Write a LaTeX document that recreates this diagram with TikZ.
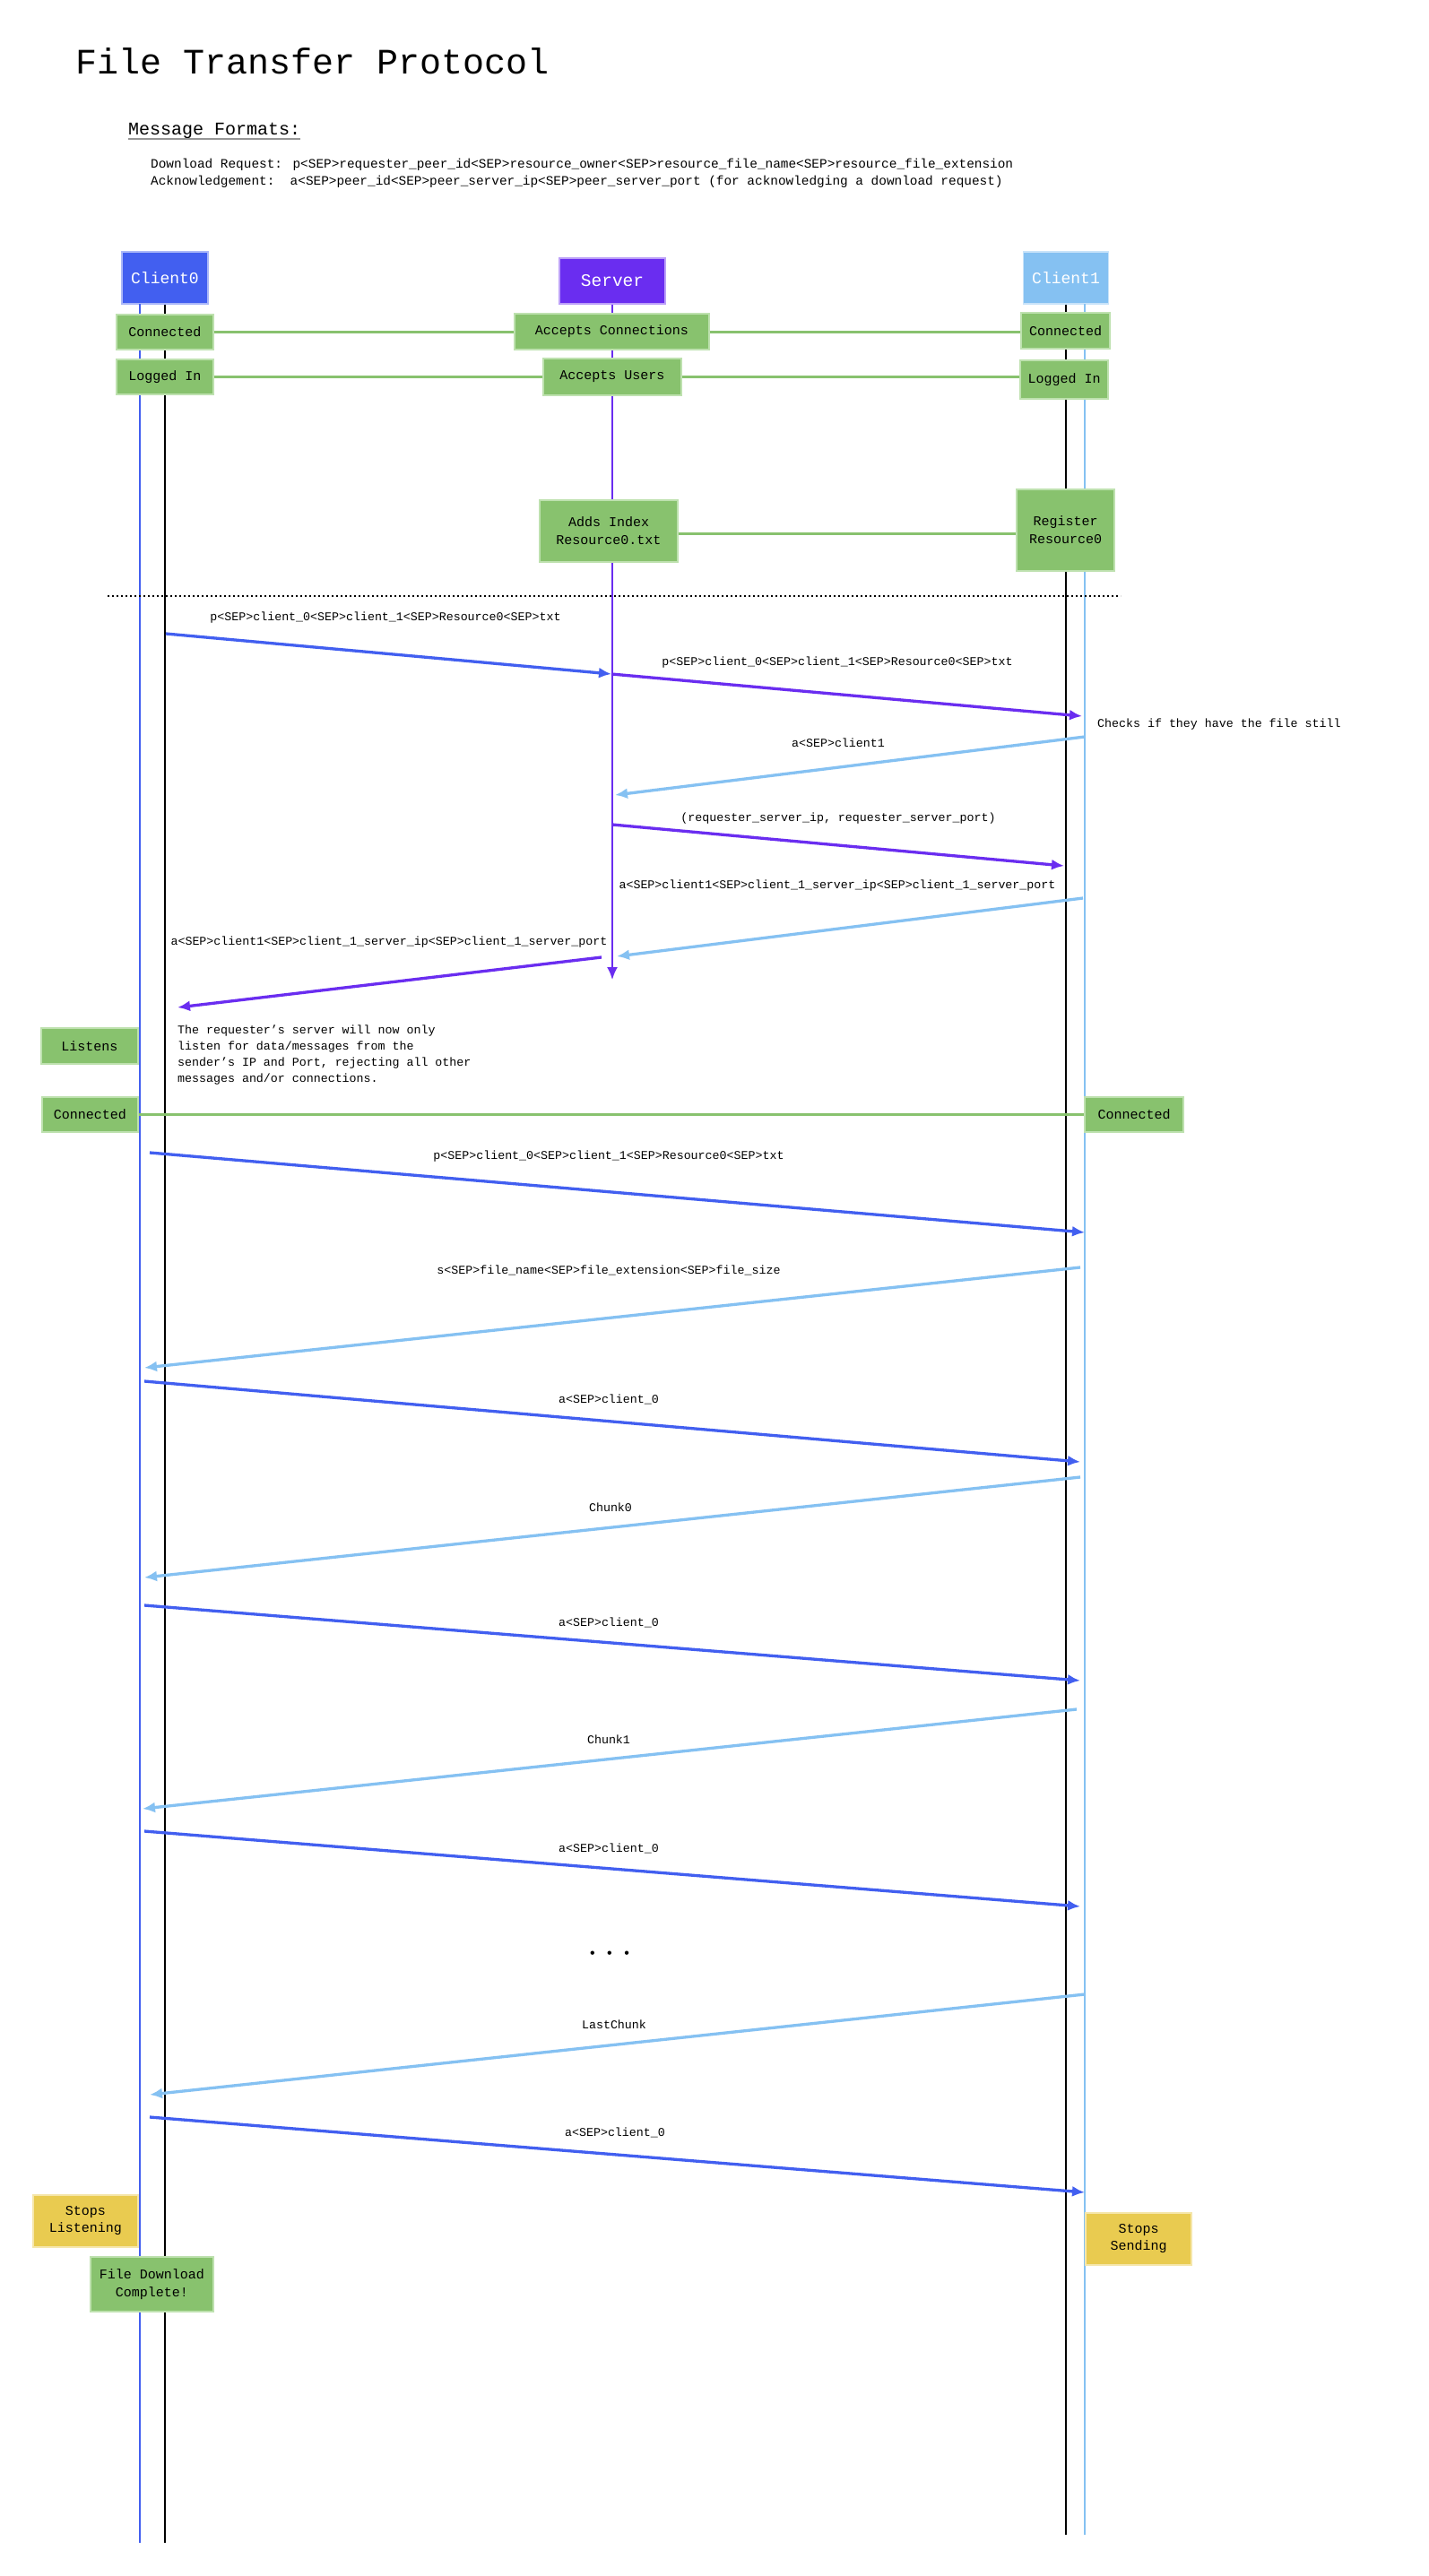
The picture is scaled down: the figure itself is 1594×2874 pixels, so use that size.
\documentclass[tikz,border=0pt]{standalone}
\usepackage{fontspec}
\setmainfont{Liberation Mono}
\usetikzlibrary{arrows.meta}
\definecolor{cA}{RGB}{66,95,240}
\definecolor{cS}{RGB}{106,45,240}
\definecolor{cB}{RGB}{133,193,242}
\definecolor{gfill}{RGB}{136,194,110}
\definecolor{gedge}{RGB}{190,225,175}
\definecolor{yfill}{RGB}{233,203,80}
\definecolor{yedge}{RGB}{245,230,170}
\definecolor{uline}{RGB}{150,150,150}
\tikzset{
  hdr/.style={rectangle, inner sep=0pt, text=white, fill=#1, draw=white!55!#1, line width=1.2pt},
  gbox/.style={rectangle, inner sep=0pt, fill=gfill, draw=gedge, line width=1.2pt, align=center, font={\fontsize{15}{20}\selectfont}},
  ybox/.style={rectangle, inner sep=0pt, fill=yfill, draw=yedge, line width=1.2pt, align=center, font={\fontsize{15}{19}\selectfont}},
  glink/.style={draw=gfill, line width=3pt},
  msgA/.style={draw=cA, line width=3.3pt, -{Latex[length=14pt,width=12pt]}},
  msgS/.style={draw=cS, line width=3.3pt, -{Latex[length=14pt,width=12pt]}},
  msgB/.style={draw=cB, line width=3.3pt, -{Latex[length=14pt,width=12pt]}},
  lbl/.style={inner sep=0pt, font={\fontsize{13.3}{18}\selectfont}},
}
\begin{document}
\begin{tikzpicture}[x=1pt,y=-1pt]
\fill[white] (0,0) rectangle (1594,2874);
\useasboundingbox (0,0) rectangle (1594,2874);

% title and formats
\node[inner sep=0pt, anchor=base west, font={\fontsize{40}{40}\selectfont}] (title) at (84,83) {File Transfer Protocol};
\node[inner sep=0pt, anchor=base west, font={\fontsize{20}{20}\selectfont}] (mf) at (143,151) {Message Formats:};
\draw[uline, line width=2pt] ([yshift=-4pt]mf.base west) -- ([yshift=-4pt]mf.base east);
\node[inner sep=0pt, anchor=base west, font={\fontsize{14.4}{19}\selectfont}] (fmt1) at (168,188) {Download Request: p<SEP>requester\_peer\_id<SEP>resource\_owner<SEP>resource\_file\_name<SEP>resource\_file\_extension};
\node[inner sep=0pt, anchor=base west, font={\fontsize{14.4}{19}\selectfont}] (fmt2) at (168,207) {Acknowledgement:\ \ a<SEP>peer\_id<SEP>peer\_server\_ip<SEP>peer\_server\_port (for acknowledging a download request)};

% lifeline coordinates
\coordinate (c0bt) at (156,339);
\coordinate (c0bb) at (156,2837);
\coordinate (c0kb) at (184,2837);
\coordinate (srvb) at (683,1093);
\coordinate (c1kb) at (1189,2828);
\coordinate (c1bt) at (1210,339);
\coordinate (c1bb) at (1210,2828);

% headers
\node[hdr=cA, minimum width=96pt, minimum height=58pt, font={\fontsize{18}{18}\selectfont}] (c0) at (184,310) {Client0};
\node[hdr=cS, minimum width=118pt, minimum height=51pt, font={\fontsize{19.5}{19.5}\selectfont}] (srv) at (683,313.5) {Server};
\node[hdr=cB, minimum width=95pt, minimum height=58pt, font={\fontsize{18}{18}\selectfont}] (c1) at (1189,310) {Client1};

% lifelines
\draw[cA, line width=2pt] (c0bt) -- (c0bb);
\draw[black, line width=2.2pt] (c0.south) -- (c0kb);
\draw[cS, line width=2pt, -{Latex[length=14pt,width=12pt]}] (srv.south) -- (srvb);
\draw[black, line width=2.8pt] (c1.south) -- (c1kb);
\draw[cB, line width=2.5pt] (c1bt) -- (c1bb);

% state boxes (top)
\node[gbox, minimum width=108pt, minimum height=39pt] (c0con) at (184,370.5) {Connected};
\node[gbox, minimum width=217pt, minimum height=40pt] (srvcon) at (682.5,370) {Accepts Connections};
\node[gbox, minimum width=99pt, minimum height=40pt] (c1con) at (1188.5,369) {Connected};
\node[gbox, minimum width=108pt, minimum height=39pt] (c0log) at (184,420.5) {Logged In};
\node[gbox, minimum width=154pt, minimum height=41pt] (srvusr) at (683,420.5) {Accepts Users};
\node[gbox, minimum width=98pt, minimum height=43pt] (c1log) at (1187,423.5) {Logged In};
\node[gbox, minimum width=154pt, minimum height=69pt] (srvidx) at (679,592.5) {Adds Index\\Resource0.txt};
\node[gbox, minimum width=109pt, minimum height=91pt] (c1reg) at (1188.5,591.5) {Register\\Resource0};

\draw[glink] (c0con.east) -- (c0con.east -| srvcon.west);
\draw[glink] (srvcon.east) -- (srvcon.east -| c1con.west);
\draw[glink] (c0log.east) -- (c0log.east -| srvusr.west);
\draw[glink] (srvusr.east) -- (srvusr.east -| c1log.west);
\draw[glink] ([yshift=-3pt]srvidx.east) -- ([yshift=-3pt]srvidx.east -| c1reg.west);

% dotted separator
\coordinate (dotL) at (120,665);
\coordinate (dotR) at (1250,665);
\draw[black, line width=2pt, dash pattern=on 2pt off 3pt] (dotL) -- (dotR);

% message end points
\coordinate (m1s) at (185,707);   \coordinate (m1e) at (682,752);
\coordinate (m2s) at (682,752);   \coordinate (m2e) at (1207,799);
\coordinate (m3s) at (1210,822);  \coordinate (m3e) at (686,887);
\coordinate (m4s) at (683,920);   \coordinate (m4e) at (1187,966);
\coordinate (m5s) at (1208,1002); \coordinate (m5e) at (688,1067);
\coordinate (m6s) at (671,1068);  \coordinate (m6e) at (198,1124);
\coordinate (m7s) at (167,1286);  \coordinate (m7e) at (1210,1375);
\coordinate (m8s) at (1205,1414); \coordinate (m8e) at (161,1526);
\coordinate (m9s) at (161,1541);  \coordinate (m9e) at (1205,1631);
\coordinate (m10s) at (1205,1648); \coordinate (m10e) at (161,1760);
\coordinate (m11s) at (161,1791); \coordinate (m11e) at (1205,1875);
\coordinate (m12s) at (1201,1907); \coordinate (m12e) at (159,2018);
\coordinate (m13s) at (161,2043); \coordinate (m13e) at (1205,2127);
\coordinate (m14s) at (1210,2225); \coordinate (m14e) at (167,2337);
\coordinate (m15s) at (167,2362); \coordinate (m15e) at (1210,2446);

\draw[msgA] (m1s) -- (m1e);
\draw[msgS] (m2s) -- (m2e);
\draw[msgB] (m3s) -- (m3e);
\draw[msgS] (m4s) -- (m4e);
\draw[msgB] (m5s) -- (m5e);
\draw[msgS] (m6s) -- (m6e);
\draw[msgA] (m7s) -- (m7e);
\draw[msgB] (m8s) -- (m8e);
\draw[msgA] (m9s) -- (m9e);
\draw[msgB] (m10s) -- (m10e);
\draw[msgA] (m11s) -- (m11e);
\draw[msgB] (m12s) -- (m12e);
\draw[msgA] (m13s) -- (m13e);
\draw[msgB] (m14s) -- (m14e);
\draw[msgA] (m15s) -- (m15e);

% message labels
\node[lbl] (l1) at (430,689) {p<SEP>client\_0<SEP>client\_1<SEP>Resource0<SEP>txt};
\node[lbl] (l2) at (934,739) {p<SEP>client\_0<SEP>client\_1<SEP>Resource0<SEP>txt};
\node[lbl, anchor=west] (chk) at (1224,808) {Checks if they have the file still};
\node[lbl] (l3) at (935,829) {a<SEP>client1};
\node[lbl] (l4) at (935,913) {(requester\_server\_ip, requester\_server\_port)};
\node[lbl] (l5) at (934,988) {a<SEP>client1<SEP>client\_1\_server\_ip<SEP>client\_1\_server\_port};
\node[lbl] (l6) at (434,1051) {a<SEP>client1<SEP>client\_1\_server\_ip<SEP>client\_1\_server\_port};
\node[lbl, anchor=north west, align=left] (note) at (198,1144) {The requester's server will now only\\listen for data/messages from the\\sender's IP and Port, rejecting all other\\messages and/or connections.};
\node[lbl] (l7) at (679,1290) {p<SEP>client\_0<SEP>client\_1<SEP>Resource0<SEP>txt};
\node[lbl] (l8) at (679,1417) {s<SEP>file\_name<SEP>file\_extension<SEP>file\_size};
\node[lbl] (l9) at (679,1561) {a<SEP>client\_0};
\node[lbl] (l10) at (681,1682) {Chunk0};
\node[lbl] (l11) at (679,1810) {a<SEP>client\_0};
\node[lbl] (l12) at (679,1941) {Chunk1};
\node[lbl] (l13) at (679,2062) {a<SEP>client\_0};
\node[inner sep=0pt, font={\fontsize{16}{16}\selectfont}] (dots) at (680,2181) {• • •};
\node[lbl] (l14) at (685,2259) {LastChunk};
\node[lbl] (l15) at (686,2379) {a<SEP>client\_0};

% middle / bottom state boxes
\node[gbox, minimum width=108pt, minimum height=40pt] (lis) at (100,1167) {Listens};
\node[gbox, minimum width=107pt, minimum height=39pt] (c0con2) at (100.5,1243.5) {Connected};
\node[gbox, minimum width=110pt, minimum height=39pt] (c1con2) at (1265,1243.5) {Connected};
\draw[glink] (c0con2.east) -- (c0con2.east -| c1con2.west);
\node[ybox, minimum width=117pt, minimum height=58pt] (stopl) at (95.5,2478) {Stops\\Listening};
\node[ybox, minimum width=118pt, minimum height=58pt] (stops) at (1270,2498) {Stops\\Sending};
\node[gbox, minimum width=137pt, minimum height=61pt] (done) at (169.5,2548.5) {File Download\\Complete!};
\end{tikzpicture}
\end{document}
